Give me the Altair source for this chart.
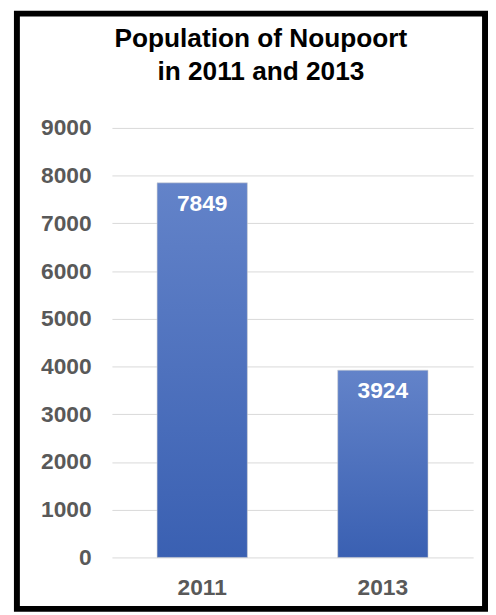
import altair as alt
import pandas as pd

years = ["2011", "2013"]
population = [7849, 3924]
y_ticks = [0, 1000, 2000, 3000, 4000, 5000, 6000, 7000, 8000, 9000]
title_lines = ["Population of Noupoort", "in 2011 and 2013"]

df = pd.DataFrame({"year": years, "population": population})
FONT = "Liberation Sans"
LABEL_GREY = "#595959"

x_enc = alt.X(
    "year:N",
    sort=years,
    scale=alt.Scale(paddingInner=0.5, paddingOuter=0.25),
    axis=alt.Axis(
        title=None, labelAngle=0, ticks=False, domain=False, grid=False,
        labelFontSize=23, labelFontWeight="bold", labelColor=LABEL_GREY,
        labelPadding=19, labelFont=FONT,
    ),
)
y_enc = alt.Y(
    "population:Q",
    scale=alt.Scale(domain=[0, 9000], nice=False),
    axis=alt.Axis(
        title=None, values=y_ticks, format="d", ticks=False, domain=False, grid=True,
        gridColor="#d9d9d9", gridWidth=1,
        labelFontSize=23, labelFontWeight="bold", labelColor=LABEL_GREY,
        labelPadding=21, labelFont=FONT,
    ),
)

grad = alt.Gradient(
    gradient="linear",
    stops=[
        alt.GradientStop(color="#6383c9", offset=0),
        alt.GradientStop(color="#3a60b2", offset=1),
    ],
    x1=0, x2=0, y1=0, y2=1,
)

bars = alt.Chart(df).mark_bar(
    color=grad, stroke="#d0d0d0", strokeWidth=0.8, strokeOpacity=0.7
).encode(x=x_enc, y=y_enc)

labels = alt.Chart(df).mark_text(
    baseline="top", dy=10, color="white", fontWeight="bold", fontSize=23, font=FONT
).encode(
    x=alt.X("year:N", sort=years),
    y=alt.Y("population:Q"),
    text="population:Q",
)

border = alt.Chart(pd.DataFrame({"a": [0]})).mark_rect(
    fillOpacity=0, stroke="black", strokeWidth=6
).encode(
    x=alt.value(-96), x2=alt.value(377), y=alt.value(-115.5), y2=alt.value(486)
)

chart = alt.layer(bars, labels, border).properties(
    width=365,
    height=434,
    background="white",
    title=alt.TitleParams(
        text=title_lines, font=FONT, fontSize=26.5, fontWeight="bold",
        color="black", lineHeight=34, anchor="middle", dx=-32, offset=0, dy=97,
        frame="group", baseline="alphabetic",
    ),
    padding={"left": 105, "top": 118, "right": 15, "bottom": 55},
    autosize=alt.AutoSizeParams(type="none"),
).configure_view(strokeWidth=0)

chart.save("out.html", embed_options={"renderer": "svg", "actions": False})
